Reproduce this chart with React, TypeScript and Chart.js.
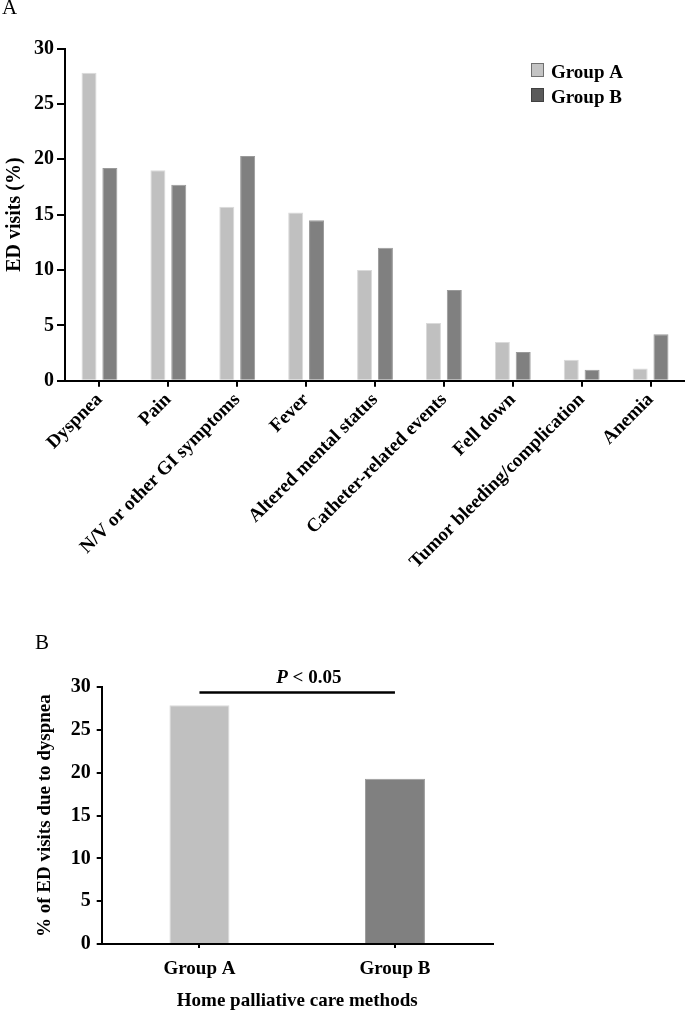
import React, { useEffect, useRef } from "react";
import { Chart, registerables } from "chart.js";

Chart.register(...registerables);

const SERIF = "'Liberation Serif', 'Times New Roman', serif";

// Panel A data
const categories = [
  "Dyspnea",
  "Pain",
  "N/V or other GI symptoms",
  "Fever",
  "Altered mental status",
  "Catheter-related events",
  "Fell down",
  "Tumor bleeding/complication",
  "Anemia",
];
const groupA = [27.8, 19.0, 15.7, 15.2, 10.0, 5.2, 3.5, 1.9, 1.1];
const groupB = [19.2, 17.7, 20.3, 14.5, 12.0, 8.2, 2.6, 1.0, 4.2];
const seriesNames = ["Group A", "Group B"];
const yTicksTop = [0, 5, 10, 15, 20, 25, 30];

// Panel B data
const groupLabels = ["Group A", "Group B"];
const dyspneaByGroup = [27.9, 19.3];
const yTicksBottom = [0, 5, 10, 15, 20, 25, 30];
const sigLevel = 29.4;
const pLabel = "P";
const pRest = " < 0.05";

const COLOR_A = "#c0c0c0";
const COLOR_B = "#808080";
const EDGE_A = "#dadada";
const EDGE_B = "#9a9a9a";

function panelLabel(id: string, text: string, x: number, y: number) {
  return {
    id,
    afterDraw(chart: any) {
      const ctx = chart.ctx;
      ctx.save();
      ctx.fillStyle = "#000";
      ctx.font = `21px ${SERIF}`;
      ctx.textBaseline = "alphabetic";
      ctx.textAlign = "left";
      ctx.fillText(text, x, y);
      ctx.restore();
    },
  };
}

const legendPlugin = {
  id: "customLegend",
  afterDraw(chart: any) {
    const ctx = chart.ctx;
    const fills = ["#c4c4c4", "#5a5a5a"];
    const strokes = ["#707070", "#404040"];
    ctx.save();
    chart.data.datasets.forEach((ds: any, i: number) => {
      const bx = 531.5;
      const by = 63.5 + i * 25;
      ctx.fillStyle = fills[i];
      ctx.fillRect(bx, by, 12, 13);
      ctx.strokeStyle = strokes[i];
      ctx.lineWidth = 1;
      ctx.strokeRect(bx, by, 12, 13);
      ctx.fillStyle = "#000";
      ctx.font = `bold 19px ${SERIF}`;
      ctx.textBaseline = "alphabetic";
      ctx.textAlign = "left";
      ctx.fillText(ds.label, 551, by + 14);
    });
    ctx.restore();
  },
};

const sigPlugin = {
  id: "sigBar",
  afterDatasetsDraw(chart: any) {
    const { ctx, scales } = chart;
    const x0 = scales.x.getPixelForValue(0);
    const x1 = scales.x.getPixelForValue(1);
    const yy = scales.y.getPixelForValue(sigLevel);
    ctx.save();
    ctx.strokeStyle = "#000";
    ctx.lineWidth = 2.5;
    ctx.beginPath();
    ctx.moveTo(x0, yy);
    ctx.lineTo(x1, yy);
    ctx.stroke();
    const startX = (x0 + x1) / 2 - 21;
    const baseY = yy - 9;
    ctx.fillStyle = "#000";
    ctx.textBaseline = "alphabetic";
    ctx.textAlign = "left";
    ctx.font = `italic bold 19px ${SERIF}`;
    ctx.fillText(pLabel, startX, baseY);
    const w = ctx.measureText(pLabel).width;
    ctx.font = `bold 19px ${SERIF}`;
    ctx.fillText(pRest, startX + w, baseY);
    ctx.restore();
  },
};

const TOP_H = 600;
const BOT_TOP = 610;
const BOT_H = 401;

export default function App() {
  const ref1 = useRef<HTMLCanvasElement | null>(null);
  const ref2 = useRef<HTMLCanvasElement | null>(null);

  useEffect(() => {
    const c1 = new Chart(ref1.current as HTMLCanvasElement, {
      type: "bar",
      data: {
        labels: categories,
        datasets: [
          {
            label: seriesNames[0],
            data: groupA,
            backgroundColor: COLOR_A,
            borderColor: EDGE_A,
            borderWidth: 1,
          },
          {
            label: seriesNames[1],
            data: groupB,
            backgroundColor: COLOR_B,
            borderColor: EDGE_B,
            borderWidth: 1,
          },
        ],
      },
      options: {
        animation: false,
        responsive: false,
        maintainAspectRatio: false,
        layout: { padding: { top: 48.5, left: 0, right: 0, bottom: 0 } },
        datasets: { bar: { categoryPercentage: 0.605, barPercentage: 0.72 } },
        plugins: {
          legend: { display: false },
          tooltip: { enabled: false },
        },
        scales: {
          x: {
            grid: {
              offset: false,
              drawOnChartArea: false,
              tickLength: 6,
              color: "#000",
              lineWidth: 2,
            },
            border: { color: "#000", width: 2 },
            ticks: {
              color: "#000",
              font: { family: SERIF, size: 19, weight: "bold" },
              minRotation: 45,
              maxRotation: 45,
              autoSkip: false,
              padding: 2,
            },
            afterFit: (s: any) => {
              s.height = TOP_H - 380.7;
              s.paddingLeft = 0;
              s.paddingRight = 0;
            },
          },
          y: {
            min: 0,
            max: 30,
            afterBuildTicks: (s: any) => {
              s.ticks = yTicksTop.map((v) => ({ value: v }));
            },
            grid: {
              drawOnChartArea: false,
              tickLength: 8,
              color: "#000",
              lineWidth: 2,
            },
            border: { color: "#000", width: 2 },
            ticks: {
              color: "#000",
              font: { family: SERIF, size: 20, weight: "bold" },
              padding: 3,
            },
            title: {
              display: true,
              text: "ED visits (%)",
              color: "#000",
              font: { family: SERIF, size: 20, weight: "bold" },
              padding: { top: 3, bottom: 0 },
            },
            afterFit: (s: any) => {
              s.width = 65;
              s.paddingTop = 0;
              s.paddingBottom = 0;
            },
          },
        },
      },
      plugins: [legendPlugin, panelLabel("lblA", "A", 2, 14)],
    } as any);

    const c2 = new Chart(ref2.current as HTMLCanvasElement, {
      type: "bar",
      data: {
        labels: groupLabels,
        datasets: [
          {
            label: "dyspnea",
            data: dyspneaByGroup,
            backgroundColor: [COLOR_A, COLOR_B],
            borderColor: [EDGE_A, EDGE_B],
            borderWidth: 1,
          },
        ],
      },
      options: {
        animation: false,
        responsive: false,
        maintainAspectRatio: false,
        layout: { padding: { top: 77.3, left: 0, right: 7.3, bottom: 0 } },
        datasets: { bar: { categoryPercentage: 1, barPercentage: 0.307 } },
        plugins: {
          legend: { display: false },
          tooltip: { enabled: false },
        },
        scales: {
          x: {
            grid: {
              offset: false,
              drawOnChartArea: false,
              tickLength: 4,
              color: "#000",
              lineWidth: 2,
            },
            border: { color: "#000", width: 2 },
            ticks: {
              color: "#000",
              font: { family: SERIF, size: 19, weight: "bold" },
              maxRotation: 0,
              padding: 10,
            },
            title: {
              display: true,
              text: "Home palliative care methods",
              color: "#000",
              font: { family: SERIF, size: 19, weight: "bold", lineHeight: 1 },
              padding: { top: 0, bottom: 0 },
            },
            afterFit: (s: any) => {
              s.height = BOT_H - 334;
              s.paddingLeft = 0;
              s.paddingRight = 0;
            },
          },
          y: {
            min: 0,
            max: 30,
            afterBuildTicks: (s: any) => {
              s.ticks = yTicksBottom.map((v) => ({ value: v }));
            },
            grid: {
              drawOnChartArea: false,
              tickLength: 5,
              color: "#000",
              lineWidth: 2,
            },
            border: { color: "#000", width: 2 },
            ticks: {
              color: "#000",
              font: { family: SERIF, size: 20, weight: "bold" },
              padding: 6,
            },
            title: {
              display: true,
              text: "% of ED visits due to dyspnea",
              color: "#000",
              font: { family: SERIF, size: 19, weight: "bold" },
              padding: { top: 34, bottom: 0 },
            },
            afterFit: (s: any) => {
              s.width = 101.7;
              s.paddingTop = 0;
              s.paddingBottom = 0;
            },
          },
        },
      },
      plugins: [sigPlugin, panelLabel("lblB", "B", 35, 39)],
    } as any);

    return () => {
      c1.destroy();
      c2.destroy();
    };
  }, []);

  return (
    <div
      style={{
        position: "absolute",
        left: 0,
        top: 0,
        width: 685,
        height: 1011,
        overflow: "hidden",
        background: "#fff",
      }}
    >
      <canvas
        ref={ref1}
        width={685}
        height={TOP_H}
        style={{ position: "absolute", left: 0, top: 0, width: 685, height: TOP_H }}
      />
      <canvas
        ref={ref2}
        width={500}
        height={BOT_H}
        style={{ position: "absolute", left: 0, top: BOT_TOP, width: 500, height: BOT_H }}
      />
    </div>
  );
}
